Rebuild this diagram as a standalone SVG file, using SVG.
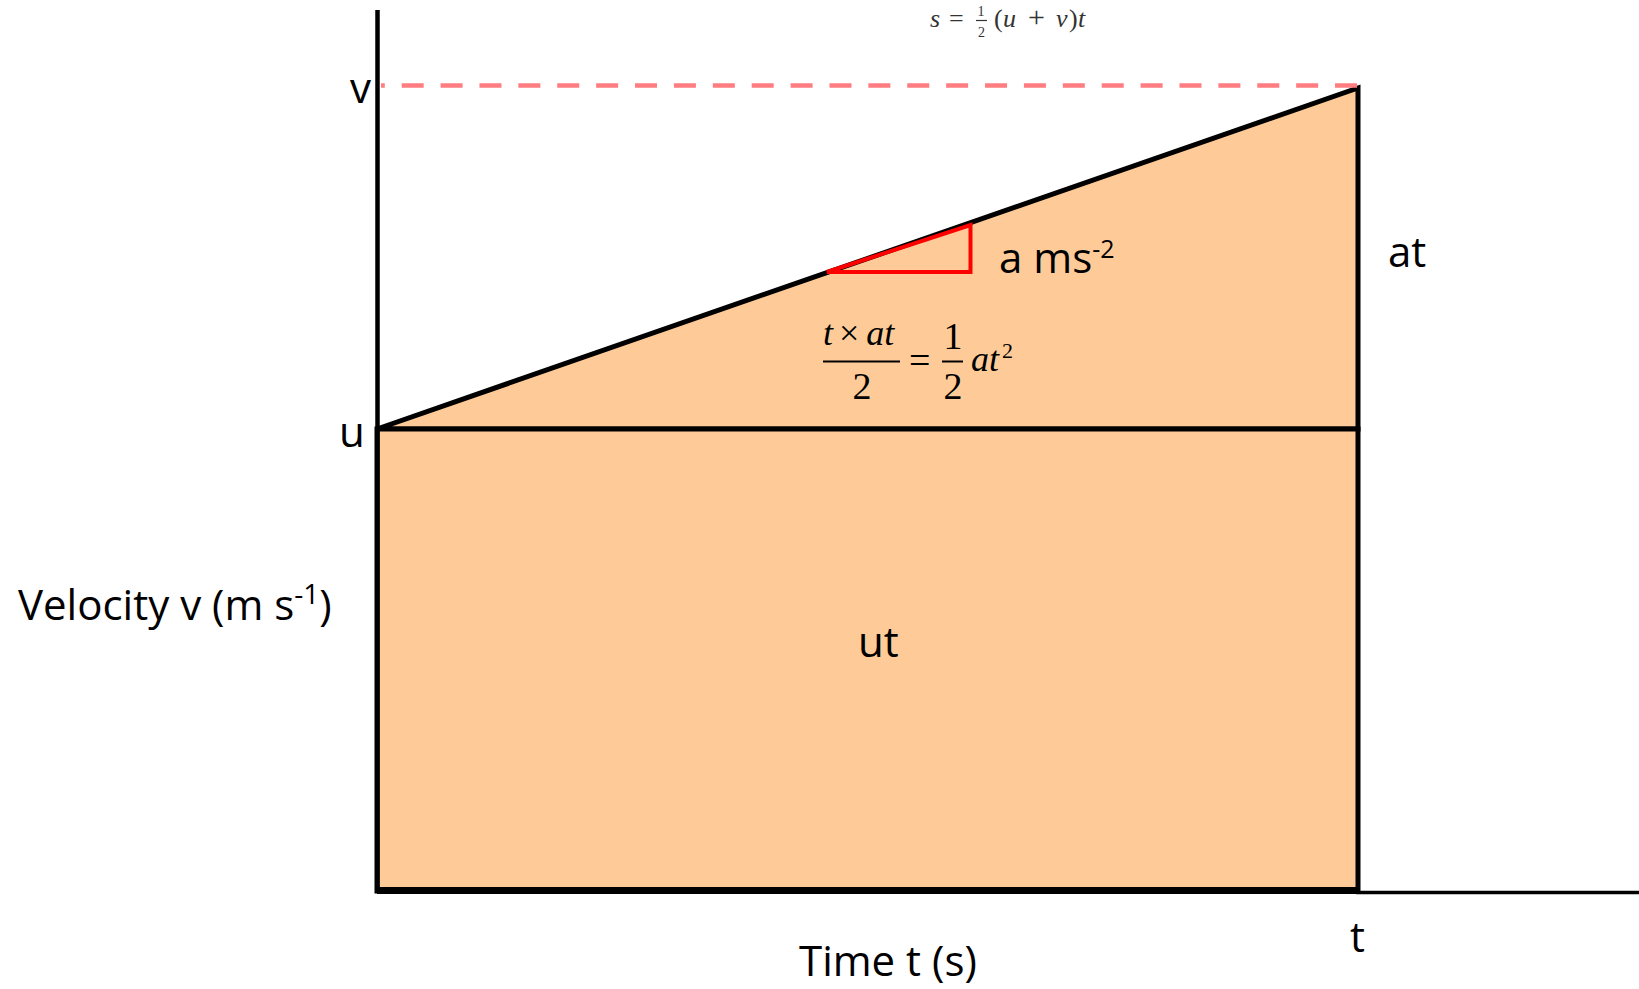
<svg xmlns="http://www.w3.org/2000/svg" width="1639" height="989" viewBox="0 0 1639 989">
<style>
.lbl{font-family:"Open Sans","Liberation Sans",sans-serif;font-size:42px;fill:#000}
.math{font-family:"Liberation Serif","Times New Roman",serif;fill:#000}
.it{font-style:italic}
.top{font-family:"Liberation Serif","Times New Roman",serif;fill:#333}
.area{fill:#FECB98;stroke:#000;stroke-width:5;stroke-linejoin:miter}
.axis{stroke:#000;fill:none}
</style>
<rect width="1639" height="989" fill="#fff"/>
<g id="areas">
  <g id="triangle-area">
    <polygon class="area" points="377,429 1358,88 1358,429"/>
  </g>
  <g id="rect-area">
    <rect class="area" x="377" y="429" width="981" height="462"/>
    <line x1="377" y1="890.5" x2="1358" y2="890.5" stroke="#000" stroke-width="7"/>
  </g>
</g>
<g id="connectors">
  <line class="axis" x1="377.5" y1="10" x2="377.5" y2="893" stroke-width="4.5"/>
  <line class="axis" x1="1356" y1="892.5" x2="1639" y2="892.5" stroke-width="3.5"/>
  <line x1="381" y1="85.5" x2="1357" y2="85.5" stroke="#FF7C80" stroke-width="4.5" stroke-dasharray="22 16.89" stroke-dashoffset="18.2"/>
  <polygon id="gradient-triangle" points="827,272 970.5,225 970.5,272" fill="none" stroke="#FF0000" stroke-width="4"/>
</g>
<g id="labels">
  <text class="lbl" x="350" y="103">v</text>
  <text class="lbl" x="339" y="447">u</text>
  <text class="lbl" x="1388" y="267">at</text>
  <text class="lbl" x="858" y="657">ut</text>
  <text class="lbl" x="999" y="273" font-size="38">a ms<tspan font-size="25" dy="-15">-2</tspan></text>
  <text class="lbl" x="18" y="620" font-size="43">Velocity v (m s<tspan font-size="28" dy="-16">-1</tspan><tspan dy="16">)</tspan></text>
  <text class="lbl" x="1350" y="952">t</text>
  <text class="lbl" x="799" y="976" font-size="43">Time t (s)</text>
</g>
<g id="eq-top">
  <text class="top it" x="930" y="27" font-size="26">s</text>
  <text class="top" x="949" y="27" font-size="26">=</text>
  <text class="top" x="981" y="16" font-size="14" text-anchor="middle">1</text>
  <line x1="976" y1="20.5" x2="987" y2="20.5" stroke="#333" stroke-width="1.2"/>
  <text class="top" x="981.5" y="37" font-size="14" text-anchor="middle">2</text>
  <text class="top" x="994" y="27" font-size="26">(</text>
  <text class="top it" x="1003" y="27" font-size="26">u</text>
  <text class="top" x="1028" y="27" font-size="30">+</text>
  <text class="top it" x="1056" y="27" font-size="26">v</text>
  <text class="top" x="1069" y="27" font-size="26">)</text>
  <text class="top it" x="1078" y="27" font-size="26">t</text>
</g>
<g id="eq-middle">
  <text class="math" x="823" y="345" font-size="36"><tspan class="it">t</tspan><tspan dx="6">×</tspan><tspan class="it" dx="7">at</tspan></text>
  <line x1="823" y1="361.5" x2="900" y2="361.5" stroke="#000" stroke-width="2"/>
  <text class="math" x="862" y="399" font-size="38" text-anchor="middle">2</text>
  <text class="math" x="909" y="373" font-size="38">=</text>
  <text class="math" x="953" y="349" font-size="38" text-anchor="middle">1</text>
  <line x1="942" y1="361.5" x2="963" y2="361.5" stroke="#000" stroke-width="2"/>
  <text class="math" x="953" y="399" font-size="38" text-anchor="middle">2</text>
  <text class="math it" x="971" y="371" font-size="36">at</text>
  <text class="math" x="1002" y="358" font-size="22">2</text>
</g>
</svg>
